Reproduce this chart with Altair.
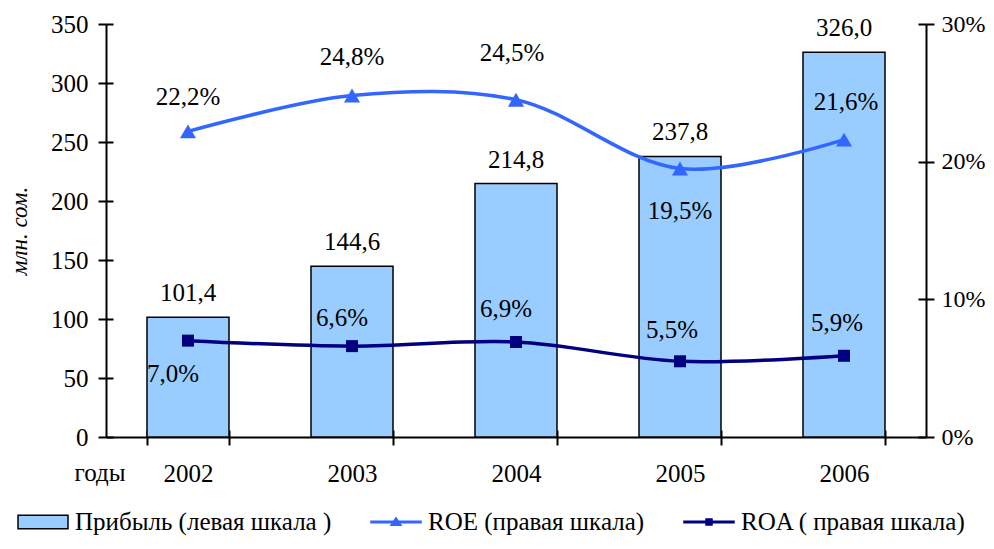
import altair as alt
import pandas as pd

years = ["2002", "2003", "2004", "2005", "2006"]
profit = [101.4, 144.6, 214.8, 237.8, 326.0]
roe_pct = [22.2, 24.8, 24.5, 19.5, 21.6]
roa_pct = [7.0, 6.6, 6.9, 5.5, 5.9]
series_names = ["Прибыль (левая шкала )", "ROE (правая шкала)", "ROA ( правая шкала)"]
left_ticks = [0, 50, 100, 150, 200, 250, 300, 350]
right_ticks = [0.0, 0.1, 0.2, 0.3]


def ru(v, pct=False):
    return f"{v:.1f}".replace(".", ",") + ("%" if pct else "")


df = pd.DataFrame({
    "year": years,
    "profit": profit,
    "roe": [v / 100 for v in roe_pct],
    "roa": [v / 100 for v in roa_pct],
    "profit_lbl": [ru(v) for v in profit],
    "roe_lbl": [ru(v, True) for v in roe_pct],
    "roa_lbl": [ru(v, True) for v in roa_pct],
})
legend_df = pd.DataFrame({"s": series_names})

SERIF = "Liberation Serif, Tinos, Times New Roman, serif"
FS = 25
BAR_FILL = "#99CCFF"
ROE_C = "#3366FF"
ROA_C = "#000080"
W, H = 820, 413

# label placement (style, in pixels) per year
ROE_LABEL_OFFSET = {"2002": (0, -34), "2003": (0, -39), "2004": (-4, -47), "2005": (0, 42), "2006": (2, -38)}
ROA_LABEL_OFFSET = {"2002": (-15, 33), "2003": (-10, -28), "2004": (-10, -33), "2005": (-8, -31), "2006": (-7, -33)}

base = alt.Chart(df)
xscale = alt.Scale(domain=years, paddingInner=0.5, paddingOuter=0.25)
yl = alt.Scale(domain=[0, 350], nice=False, zero=True)
yr = alt.Scale(domain=[0, 0.3], nice=False, zero=True)

x_main = alt.X("year:N", scale=xscale, axis=alt.Axis(
    orient="bottom", title="годы", titleX=-32, titleY=43, titleAlign="left",
    titleBaseline="alphabetic", titleAngle=0, titleFont=SERIF, titleFontSize=FS,
    titleFontWeight="normal", titleColor="black",
    labelAngle=0, labelFont=SERIF, labelFontSize=FS, labelColor="black", labelPadding=16,
    tickBand="extent", tickSize=8, tickWidth=2, tickColor="black",
    domainColor="black", domainWidth=2, grid=False))
x_none = alt.X("year:N", scale=xscale, axis=None)
x_inner = alt.X("year:N", scale=xscale, axis=alt.Axis(
    orient="bottom", offset=-7, labels=False, domain=False, title=None,
    tickBand="extent", tickSize=7, tickWidth=2, tickColor="black", grid=False))

# ---- left group (bars, x axes, left axes) ----
bars = base.mark_bar(fill=BAR_FILL, stroke="black", strokeWidth=1.5).encode(
    x=x_main,
    y=alt.Y("profit:Q", scale=yl, axis=alt.Axis(
        orient="left", values=left_ticks, title="млн. сом.", titleFont=SERIF,
        titleFontStyle="italic", titleFontWeight="normal", titleFontSize=23,
        titleColor="black", titlePadding=19,
        labelFont=SERIF, labelFontSize=FS, labelColor="black", labelPadding=10,
        tickSize=8, tickWidth=2, tickColor="black", domainColor="black",
        domainWidth=2, grid=False)))
bar_labels = base.mark_text(font=SERIF, fontSize=FS, baseline="alphabetic", dy=-16,
                            color="black").encode(
    x=x_none, y=alt.Y("profit:Q", scale=yl, axis=None), text="profit_lbl:N")
left_inner = base.mark_bar(opacity=0).encode(
    x=x_inner,
    y=alt.Y("profit:Q", scale=yl, axis=alt.Axis(
        orient="left", offset=-7, values=left_ticks, labels=False, domain=False,
        title=None, tickSize=7, tickWidth=2, tickColor="black", grid=False)))
left_group = alt.layer(bars, bar_labels, left_inner).resolve_axis(x="independent", y="independent")

# ---- right group (lines) ----
roe_line = base.mark_line(
    color=ROE_C, strokeWidth=3.5, interpolate="catmull-rom",
    point=alt.OverlayMarkDef(shape="triangle-up", size=260, filled=True, color=ROE_C, opacity=1),
).encode(
    x=x_none,
    y=alt.Y("roe:Q", scale=yr, axis=alt.Axis(
        orient="right", values=right_ticks, format=".0%", title=None,
        labelFont=SERIF, labelFontSize=24, labelColor="black", labelPadding=7,
        tickSize=8, tickWidth=2, tickColor="black", domainColor="black",
        domainWidth=2, grid=False)))
roa_line = base.mark_line(
    color=ROA_C, strokeWidth=3.5, interpolate="catmull-rom",
    point=alt.OverlayMarkDef(shape="square", size=144, filled=True, color=ROA_C, opacity=1),
).encode(x=x_none, y=alt.Y("roa:Q", scale=yr, axis=None))

txt = dict(font=SERIF, fontSize=FS, baseline="middle", color="black")
label_layers = []
for yr_key, (ddx, ddy) in ROE_LABEL_OFFSET.items():
    label_layers.append(
        base.transform_filter(alt.datum.year == yr_key).mark_text(dx=ddx, dy=ddy, **txt).encode(
            x=x_none, y=alt.Y("roe:Q", scale=yr, axis=None), text="roe_lbl:N"))
for yr_key, (ddx, ddy) in ROA_LABEL_OFFSET.items():
    label_layers.append(
        base.transform_filter(alt.datum.year == yr_key).mark_text(dx=ddx, dy=ddy, **txt).encode(
            x=x_none, y=alt.Y("roa:Q", scale=yr, axis=None), text="roa_lbl:N"))

right_inner = base.mark_line(opacity=0).encode(
    x=x_none,
    y=alt.Y("roe:Q", scale=yr, axis=alt.Axis(
        orient="right", offset=-8, values=right_ticks, labels=False, domain=False,
        title=None, tickSize=8, tickWidth=2, tickColor="black", grid=False)))
right_group = alt.layer(roe_line, roa_line, *label_layers,
                        right_inner).resolve_axis(y="independent")

# ---- legend ----
bar_path = "M-1,-0.27L1,-0.27L1,0.27L-1,0.27Z"
roe_path = "M-1,-0.03L1,-0.03L1,0.03L-1,0.03Z M-0.2,0.13L0,-0.17L0.2,0.13Z"
roa_path = "M-1,-0.03L1,-0.03L1,0.03L-1,0.03Z M-0.12,-0.12L0.12,-0.12L0.12,0.12L-0.12,0.12Z"
leg = alt.Legend(orient="none", legendX=-89, legendY=472, direction="horizontal", title=None,
                 labelFont=SERIF, labelFontSize=25, labelColor="black", labelLimit=600,
                 labelOffset=6, columnPadding=36, symbolSize=2500, symbolStrokeWidth=1.5,
                 symbolOpacity=1)
legend_layer = alt.Chart(legend_df).mark_point(opacity=0, filled=True).encode(
    shape=alt.Shape("s:N", scale=alt.Scale(domain=series_names, range=[bar_path, roe_path, roa_path]), legend=leg),
    fill=alt.Fill("s:N", scale=alt.Scale(domain=series_names, range=[BAR_FILL, ROE_C, ROA_C]), legend=leg),
    stroke=alt.Stroke("s:N", scale=alt.Scale(domain=series_names, range=["black", ROE_C, ROA_C]), legend=leg),
)

chart = alt.layer(left_group, right_group, legend_layer).resolve_scale(
    y="independent"
).properties(
    width=W, height=H,
    padding={"left": 98, "top": 16, "right": 60, "bottom": 104},
    autosize=alt.AutoSizeParams(type="none"),
).configure_view(stroke=None)

chart.save("out.html", embed_options={"renderer": "svg", "actions": False})
